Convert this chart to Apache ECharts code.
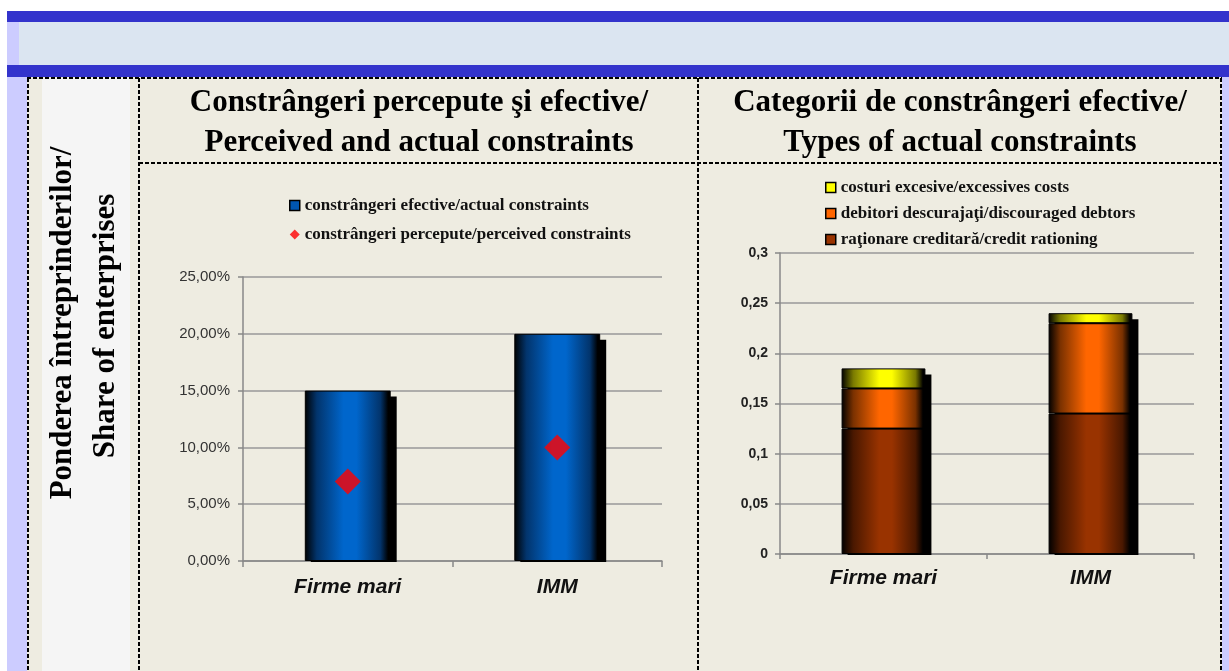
<!DOCTYPE html>
<html><head><meta charset="utf-8">
<script src="https://cdn.jsdelivr.net/npm/echarts@6/dist/echarts.min.js"></script>
<style>html,body{margin:0;padding:0;background:#fff}#c{width:1229px;height:671px}</style>
</head><body><div id="c"></div>
<script>
const categories = ['Firme mari', 'IMM'];
const actualConstraints = [0.15, 0.20];
const perceivedConstraints = [0.07, 0.10];
const creditRationing = [0.125, 0.14];
const discouragedDebtors = [0.04, 0.09];
const excessiveCosts = [0.02, 0.01];
const ticks1 = ['0,00%', '5,00%', '10,00%', '15,00%', '20,00%', '25,00%'];
const ticks2 = ['0', '0,05', '0,1', '0,15', '0,2', '0,25', '0,3'];
const names1 = ['constrângeri efective/actual constraints', 'constrângeri percepute/perceived constraints'];
const names2 = ['costuri excesive/excessives costs', 'debitori descurajaţi/discouraged debtors', 'raţionare creditară/credit rationing'];
const title1 = ['Constrângeri percepute şi efective/', 'Perceived and actual constraints'];
const title2 = ['Categorii de constrângeri efective/', 'Types of actual constraints'];
const sideTitle = ['Ponderea întreprinderilor/', 'Share of enterprises'];

const SERIF = '"Liberation Serif","Times New Roman",serif';
const SANS = '"Liberation Sans",Arial,sans-serif';

const chart = echarts.init(document.getElementById('c'), null, {renderer: 'canvas'});

function grad(c, mid) {
  return new echarts.graphic.LinearGradient(0, 0, 1, 0, [
    {offset: 0, color: '#000'},
    {offset: 0.14, color: mid},
    {offset: 0.45, color: c},
    {offset: 0.6, color: c},
    {offset: 0.88, color: mid},
    {offset: 0.97, color: '#000'},
    {offset: 1, color: '#000'}
  ]);
}

const totals2 = categories.map((c, i) => creditRationing[i] + discouragedDebtors[i] + excessiveCosts[i]);

function shadowItem(ratio) {
  return function (params, api) {
    const i = api.value(0), v = api.value(1);
    const top = api.coord([i, v]);
    const bot = api.coord([i, 0]);
    const w = api.size([1, 0])[0] * ratio;
    return {
      type: 'rect',
      shape: {x: top[0] - w / 2 + 6, y: top[1] + 6, width: w, height: bot[1] - top[1] - 5},
      style: {fill: '#000'}
    };
  };
}

function dashed(x1, y1, x2, y2) {
  return {type: 'line', z: -5, shape: {x1, y1, x2, y2}, style: {stroke: '#000', lineWidth: 2, lineDash: [4, 2]}};
}
function rect(x, y, w, h, fill) {
  return {type: 'rect', z: -10, shape: {x, y, width: w, height: h}, style: {fill}};
}
function txt(t, x, y, size, rot) {
  return {type: 'text', z: 10, x, y, rotation: rot || 0,
    style: {text: t, font: 'bold ' + size + 'px ' + SERIF, fill: '#000', textAlign: 'center', textVerticalAlign: 'middle'}};
}

const graphic = [
  rect(7, 11, 1222, 11, '#3333CC'),
  rect(7, 22, 12, 43, '#CCCCFF'),
  rect(19, 22, 1210, 43, '#DBE5F1'),
  rect(7, 65, 1222, 12, '#3333CC'),
  rect(7, 77, 20, 594, '#CCCCFF'),
  rect(1222, 77, 7, 594, '#CCCCFF'),
  rect(27, 77, 1195, 594, '#EEECE1'),
  rect(42, 78, 88, 593, '#F5F5F5'),
  dashed(27, 78, 1222, 78),
  dashed(28, 78, 28, 671),
  dashed(139, 78, 139, 671),
  dashed(698, 78, 698, 671),
  dashed(1221, 78, 1221, 671),
  dashed(139, 163, 1221, 163),
  txt(title1[0], 419, 103, 31),
  txt(title1[1], 419, 143, 31),
  txt(title2[0], 960, 103, 31),
  txt(title2[1], 960, 143, 31),
  txt(sideTitle[0], 63, 323, 31, Math.PI / 2),
  txt(sideTitle[1], 106, 326, 31, Math.PI / 2)
];

const axisLineStyle = {color: '#888', width: 1.5};
const split = {show: true, lineStyle: {color: '#999', width: 1.5}};

const option = {
  animation: false,
  graphic,
  legend: [
    {
      orient: 'vertical', left: 289, top: 197, padding: 0, itemGap: 12,
      itemWidth: 10, itemHeight: 10,
      textStyle: {fontFamily: SERIF, fontWeight: 'bold', fontSize: 17, color: '#111'},
      data: [
        {name: names1[0], icon: 'rect', itemStyle: {color: '#0055b0', borderColor: '#000', borderWidth: 1.5}},
        {name: names1[1], icon: 'diamond', itemStyle: {color: '#ff0000', borderWidth: 0}}
      ]
    },
    {
      orient: 'vertical', left: 825, top: 179, padding: 0, itemGap: 9,
      itemWidth: 10, itemHeight: 10,
      textStyle: {fontFamily: SERIF, fontWeight: 'bold', fontSize: 17, color: '#111'},
      data: [
        {name: names2[0], icon: 'rect', itemStyle: {color: '#ffff00', borderColor: '#000', borderWidth: 1.5}},
        {name: names2[1], icon: 'rect', itemStyle: {color: '#ff6600', borderColor: '#000', borderWidth: 1.5}},
        {name: names2[2], icon: 'rect', itemStyle: {color: '#993300', borderColor: '#000', borderWidth: 1.5}}
      ]
    }
  ],
  grid: [
    {left: 243, right: 567, top: 277, bottom: 110},
    {left: 780, right: 35, top: 253, bottom: 117}
  ],
  xAxis: [
    {type: 'category', gridIndex: 0, data: categories,
      axisLine: {lineStyle: axisLineStyle}, axisTick: {show: true, length: 6, lineStyle: axisLineStyle},
      axisLabel: {margin: 16, fontFamily: SANS, fontSize: 21, fontWeight: 'bold', fontStyle: 'italic', color: '#111'}},
    {type: 'category', gridIndex: 1, data: categories,
      axisLine: {lineStyle: axisLineStyle}, axisTick: {show: true, length: 5, lineStyle: axisLineStyle},
      axisLabel: {margin: 14, fontFamily: SANS, fontSize: 21, fontWeight: 'bold', fontStyle: 'italic', color: '#111'}}
  ],
  yAxis: [
    {type: 'value', gridIndex: 0, min: 0, max: 0.25, interval: 0.05,
      axisLine: {show: true, lineStyle: axisLineStyle}, axisTick: {show: true, length: 5, lineStyle: axisLineStyle},
      splitLine: split,
      axisLabel: {margin: 13, fontFamily: SANS, fontSize: 15, color: '#333',
        formatter: v => ticks1[Math.round(v / 0.05)]}},
    {type: 'value', gridIndex: 1, min: 0, max: 0.3, interval: 0.05,
      axisLine: {show: true, lineStyle: axisLineStyle}, axisTick: {show: true, length: 5, lineStyle: axisLineStyle},
      splitLine: split,
      axisLabel: {margin: 12, fontFamily: SANS, fontSize: 14, fontWeight: 'bold', color: '#222',
        formatter: v => ticks2[Math.round(v / 0.05)]}}
  ],
  series: [
    {type: 'custom', xAxisIndex: 0, yAxisIndex: 0, z: 1, silent: true,
      renderItem: shadowItem(0.41), data: categories.map((c, i) => [i, actualConstraints[i]])},
    {type: 'bar', name: names1[0], xAxisIndex: 0, yAxisIndex: 0, z: 2, barWidth: '41%',
      itemStyle: {color: grad('#0066CC', '#02346c'), borderColor: '#000', borderWidth: 1},
      data: actualConstraints},
    {type: 'scatter', name: names1[1], xAxisIndex: 0, yAxisIndex: 0, z: 3, symbol: 'diamond', symbolSize: 26,
      itemStyle: {color: '#ff0000'},
      data: perceivedConstraints},

    {type: 'custom', xAxisIndex: 1, yAxisIndex: 1, z: 1, silent: true,
      renderItem: shadowItem(0.405), data: categories.map((c, i) => [i, totals2[i]])},
    {type: 'bar', name: names2[2], xAxisIndex: 1, yAxisIndex: 1, z: 2, stack: 't', barWidth: '40.5%',
      itemStyle: {color: grad('#993300', '#4a1800'), borderColor: '#000', borderWidth: 1},
      data: creditRationing},
    {type: 'bar', name: names2[1], xAxisIndex: 1, yAxisIndex: 1, z: 2, stack: 't', barWidth: '40.5%',
      itemStyle: {color: grad('#FF6600', '#7a3100'), borderColor: '#000', borderWidth: 1},
      data: discouragedDebtors},
    {type: 'bar', name: names2[0], xAxisIndex: 1, yAxisIndex: 1, z: 2, stack: 't', barWidth: '40.5%',
      itemStyle: {color: grad('#FFFF00', '#7a7a00'), borderColor: '#000', borderWidth: 1},
      data: excessiveCosts}
  ]
};
chart.setOption(option);
</script>
</body></html>
